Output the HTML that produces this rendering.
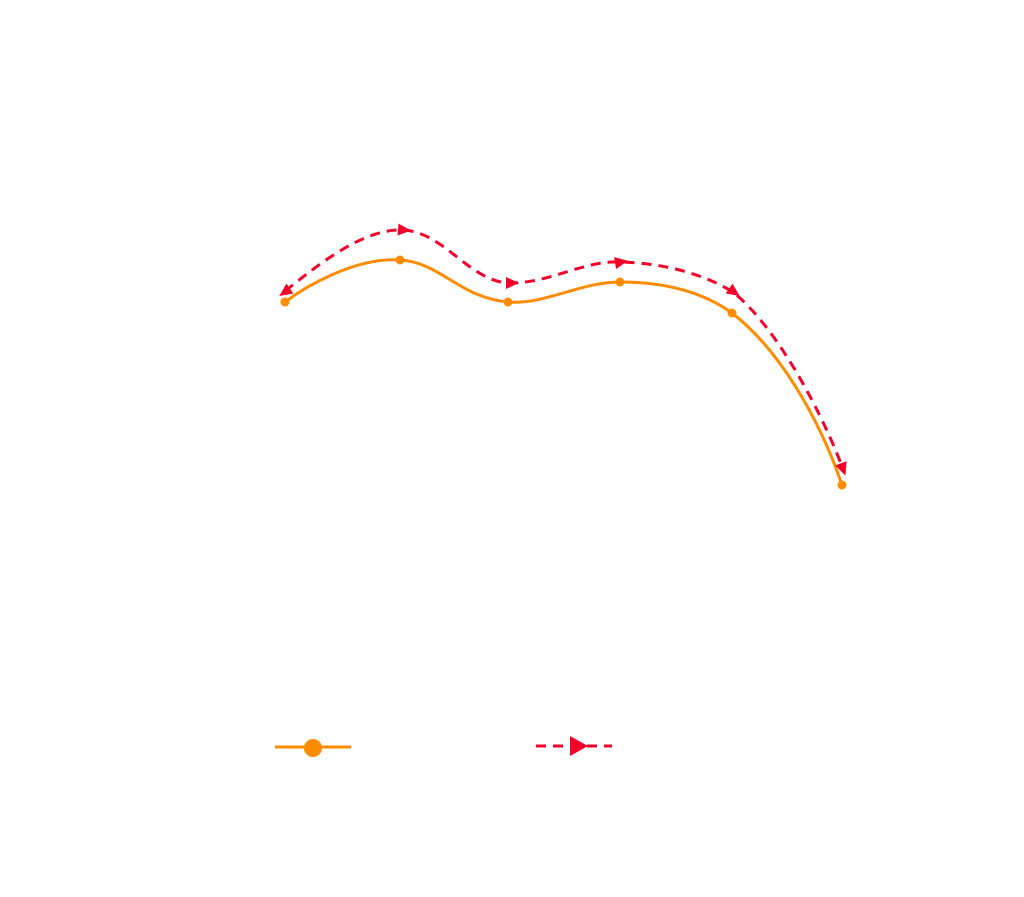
<!DOCTYPE html>
<html><head><style>html,body{margin:0;background:#fff}</style></head><body>
<svg width="1024" height="892" xmlns="http://www.w3.org/2000/svg">
<path d="M285,302 C305,287 355,257 400,260 C440,262 460,298 508,302 C545,305 580,282 620,282 C660,282 700,290 732,313 C780,350 820,420 842,485" fill="none" stroke="#ff8c00" stroke-width="3"/>
<g fill="#ff8c00">
<circle cx="285" cy="302" r="4.5"/><circle cx="400" cy="260" r="4.5"/><circle cx="508" cy="302" r="4.5"/><circle cx="620" cy="282" r="4.5"/><circle cx="732" cy="313" r="4.5"/><circle cx="842" cy="485" r="4.5"/>
</g>
<path d="M285,291 C310,272 360,228 403,230 C445,232 470,283 511,283 C550,283 585,260 620,262 C660,263 700,272 733,292 C780,330 825,420 843,469" fill="none" stroke="#f0002a" stroke-width="3" stroke-dasharray="10,7"/>
<g fill="#f0002a">
<polygon points="-6,-6 7,0 -6,6" transform="translate(285,292) rotate(145)"/>
<polygon points="-6,-6 7,0 -6,6" transform="translate(404,230) rotate(5)"/>
<polygon points="-6,-6 7,0 -6,6" transform="translate(512,283) rotate(0)"/>
<polygon points="-6,-6 7,0 -6,6" transform="translate(621,262) rotate(-10)"/>
<polygon points="-6,-6 7,0 -6,6" transform="translate(734,292) rotate(35)"/>
<polygon points="-6,-6 7,0 -6,6" transform="translate(843,469) rotate(70)"/>
</g>
<line x1="275" y1="747" x2="351" y2="747" stroke="#ff8c00" stroke-width="3"/>
<circle cx="313" cy="748" r="9" fill="#ff8c00"/>
<line x1="536" y1="746" x2="612" y2="746" stroke="#f0002a" stroke-width="3" stroke-dasharray="10,7"/>
<polygon points="570,736 588,746 570,756" fill="#f0002a"/>
</svg>
</body></html>
